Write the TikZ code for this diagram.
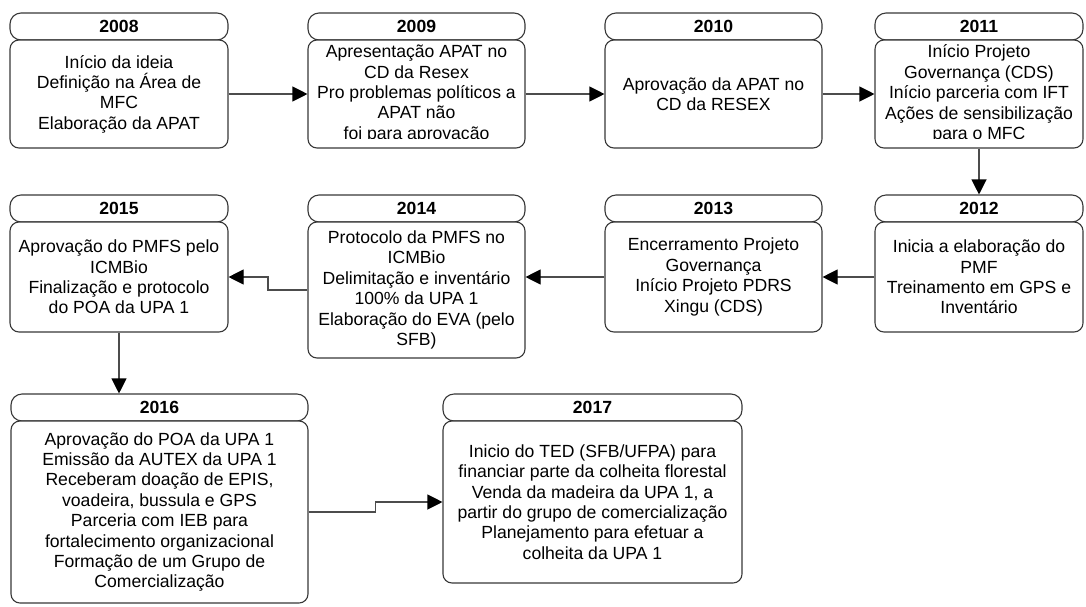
\documentclass[tikz,border=0pt]{standalone}
\usepackage{fontspec}
\setmainfont{Liberation Sans}
\usetikzlibrary{arrows.meta,calc}
\begin{document}
\begin{tikzpicture}[x=1pt,y=-1pt,
  box/.style={draw=black!78, line width=1.1pt, fill=white, rounded corners=9pt, inner sep=0pt},
  yearbox/.style={box, rounded corners=11pt, minimum height=27pt, font=\fontsize{17.6}{20.4}\selectfont\bfseries},
  bodybox/.style={box, align=center, font=\fontsize{17.6}{20.4}\selectfont},
  bodytext/.style={align=center, inner sep=0pt, font=\fontsize{17.6}{20.4}\selectfont},
  link/.style={draw=black!70, line width=1.1pt, -{Triangle[length=15pt,width=15pt,color=black]}},
  plain/.style={draw=black!70, line width=1.1pt}
]
\useasboundingbox[fill=white] (0,0) rectangle (1086,606);

% ---------- row 1 ----------
\node[yearbox, minimum width=218pt] (h08) at (119,26.5) {2008};
\node[bodybox, minimum width=218pt, minimum height=108pt] (b08) at (119,94)
  {Início da ideia\\Definição na Área de\\MFC\\Elaboração da APAT};

\node[yearbox, minimum width=217pt] (h09) at (416.5,26.5) {2009};
\node[box, minimum width=217pt, minimum height=108pt] (b09) at (416.5,94) {};
\begin{scope}
  \clip (308,40) rectangle (525,138);
  \node[bodytext] (t09) at (b09.center)
    {Apresentação APAT no\\CD da Resex\\Pro problemas políticos a\\APAT não\\foi para aprovação};
\end{scope}

\node[yearbox, minimum width=217pt] (h10) at (713.5,26.5) {2010};
\node[bodybox, minimum width=217pt, minimum height=108pt] (b10) at (713.5,94)
  {Aprovação da APAT no\\CD da RESEX};

\node[yearbox, minimum width=208pt] (h11) at (979,26.5) {2011};
\node[box, minimum width=208pt, minimum height=108pt] (b11) at (979,94) {};
\begin{scope}
  \clip (875,40) rectangle (1083,138);
  \node[bodytext] (t11) at (b11.center)
    {Início Projeto\\Governança (CDS)\\Início parceria com IFT\\Ações de sensibilização\\para o MFC};
\end{scope}

% ---------- row 2 ----------
\node[yearbox, minimum width=218pt] (h15) at (119,208.5) {2015};
\node[bodybox, minimum width=218pt, minimum height=110pt] (b15) at (119,277)
  {Aprovação do PMFS pelo\\ICMBio\\Finalização e protocolo\\do POA da UPA 1};

\node[yearbox, minimum width=217pt] (h14) at (416.5,208.5) {2014};
\node[bodybox, minimum width=217pt, minimum height=136pt] (b14) at (416.5,290)
  {Protocolo da PMFS no\\ICMBio\\Delimitação e inventário\\100\% da UPA 1\\Elaboração do EVA (pelo\\SFB)};

\node[yearbox, minimum width=217pt] (h13) at (713.5,208.5) {2013};
\node[bodybox, minimum width=217pt, minimum height=110pt] (b13) at (713.5,277)
  {Encerramento Projeto\\Governança\\Início Projeto PDRS\\Xingu (CDS)};

\node[yearbox, minimum width=208pt] (h12) at (979,208.5) {2012};
\node[bodybox, minimum width=208pt, minimum height=110pt] (b12) at (979,277)
  {Inicia a elaboração do\\PMF\\Treinamento em GPS e\\Inventário};

% ---------- row 3 ----------
\node[yearbox, minimum width=297pt] (h16) at (159.5,407.5) {2016};
\node[bodybox, minimum width=297pt, minimum height=182pt] (b16) at (159.5,512)
  {Aprovação do POA da UPA 1\\Emissão da AUTEX da UPA 1\\Receberam doação de EPIS,\\voadeira, bussula e GPS\\Parceria com IEB para\\fortalecimento organizacional\\Formação de um Grupo de\\Comercialização};

\node[yearbox, minimum width=299pt] (h17) at (592.5,407.5) {2017};
\node[bodybox, minimum width=299pt, minimum height=162pt] (b17) at (592.5,502)
  {Inicio do TED (SFB/UFPA) para\\financiar parte da colheita florestal\\Venda da madeira da UPA 1, a\\partir do grupo de comercialização\\Planejamento para efetuar a\\colheita da UPA 1};

% ---------- connectors ----------
\draw[link] (b08.east) -- (b09.west);
\draw[link] (b09.east) -- (b10.west);
\draw[link] (b10.east) -- (b11.west);
\draw[link] (b11.south) -- (h12.north);
\draw[link] (b12.west) -- (b13.east);
\draw[link] (b13.west) -- (b13.west -| b14.east);
\draw[link] (b14.west) -| ($(b14.west)!0.5!(b15.east)$) |- (b15.east);
\draw[link] (b15.south) -- (b15.south |- h16.north);
\draw[link] (b16.east) -| ($(b16.east)!0.5!(b17.west)$) |- (b17.west);
\end{tikzpicture}
\end{document}
